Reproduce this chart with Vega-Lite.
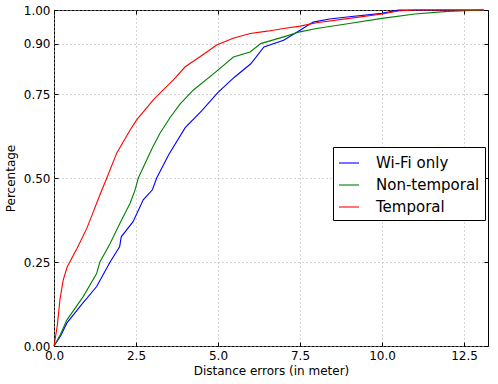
{
  "$schema": "https://vega.github.io/schema/vega-lite/v6.json",
  "width": 434,
  "height": 336,
  "autosize": {"type": "none"},
  "padding": {"left": 54, "top": 10, "right": 10, "bottom": 38},
  "background": "white",
  "config": {
    "view": {"stroke": "black", "strokeWidth": 1},
    "font": "DejaVu Sans",
    "axis": {"labelFont": "DejaVu Sans", "titleFont": "DejaVu Sans", "labelColor": "black", "titleColor": "black", "labelFontSize": 12, "titleFontSize": 12, "titleFontWeight": "normal", "domain": false, "tickColor": "black", "labelFlush": false, "labelOverlap": false}
  },
  "data": {"values": [
    {"s":"Wi-Fi only","x":0,"y":0},{"s":"Wi-Fi only","x":0.2,"y":0.03},{"s":"Wi-Fi only","x":0.39,"y":0.068},{"s":"Wi-Fi only","x":0.79,"y":0.117},{"s":"Wi-Fi only","x":1.3,"y":0.177},{"s":"Wi-Fi only","x":1.71,"y":0.25},{"s":"Wi-Fi only","x":2.0,"y":0.295},{"s":"Wi-Fi only","x":2.05,"y":0.325},{"s":"Wi-Fi only","x":2.41,"y":0.37},{"s":"Wi-Fi only","x":2.72,"y":0.435},{"s":"Wi-Fi only","x":3.0,"y":0.465},{"s":"Wi-Fi only","x":3.13,"y":0.5},{"s":"Wi-Fi only","x":3.5,"y":0.57},{"s":"Wi-Fi only","x":4.0,"y":0.65},{"s":"Wi-Fi only","x":4.5,"y":0.7},{"s":"Wi-Fi only","x":5.0,"y":0.755},{"s":"Wi-Fi only","x":5.5,"y":0.8},{"s":"Wi-Fi only","x":6.0,"y":0.84},{"s":"Wi-Fi only","x":6.4,"y":0.89},{"s":"Wi-Fi only","x":7.0,"y":0.91},{"s":"Wi-Fi only","x":7.5,"y":0.94},{"s":"Wi-Fi only","x":7.9,"y":0.964},{"s":"Wi-Fi only","x":8.4,"y":0.973},{"s":"Wi-Fi only","x":9.0,"y":0.98},{"s":"Wi-Fi only","x":10.0,"y":0.99},{"s":"Wi-Fi only","x":10.5,"y":1.0},{"s":"Wi-Fi only","x":13.1,"y":1.0},
    {"s":"Non-temporal","x":0,"y":0},{"s":"Non-temporal","x":0.2,"y":0.035},{"s":"Non-temporal","x":0.39,"y":0.077},{"s":"Non-temporal","x":0.89,"y":0.147},{"s":"Non-temporal","x":1.3,"y":0.216},{"s":"Non-temporal","x":1.4,"y":0.25},{"s":"Non-temporal","x":1.71,"y":0.305},{"s":"Non-temporal","x":2.01,"y":0.365},{"s":"Non-temporal","x":2.32,"y":0.425},{"s":"Non-temporal","x":2.47,"y":0.464},{"s":"Non-temporal","x":2.57,"y":0.5},{"s":"Non-temporal","x":3.0,"y":0.59},{"s":"Non-temporal","x":3.23,"y":0.633},{"s":"Non-temporal","x":3.54,"y":0.68},{"s":"Non-temporal","x":3.84,"y":0.72},{"s":"Non-temporal","x":4.25,"y":0.762},{"s":"Non-temporal","x":4.86,"y":0.81},{"s":"Non-temporal","x":5.47,"y":0.86},{"s":"Non-temporal","x":5.98,"y":0.875},{"s":"Non-temporal","x":6.3,"y":0.9},{"s":"Non-temporal","x":7.0,"y":0.92},{"s":"Non-temporal","x":7.5,"y":0.935},{"s":"Non-temporal","x":8.0,"y":0.945},{"s":"Non-temporal","x":9.0,"y":0.96},{"s":"Non-temporal","x":10.0,"y":0.975},{"s":"Non-temporal","x":11.0,"y":0.988},{"s":"Non-temporal","x":12.0,"y":0.996},{"s":"Non-temporal","x":13.1,"y":1.0},
    {"s":"Temporal","x":0,"y":0},{"s":"Temporal","x":0.1,"y":0.06},{"s":"Temporal","x":0.18,"y":0.137},{"s":"Temporal","x":0.28,"y":0.196},{"s":"Temporal","x":0.4,"y":0.235},{"s":"Temporal","x":0.7,"y":0.29},{"s":"Temporal","x":1.0,"y":0.35},{"s":"Temporal","x":1.2,"y":0.4},{"s":"Temporal","x":1.4,"y":0.45},{"s":"Temporal","x":1.61,"y":0.5},{"s":"Temporal","x":1.91,"y":0.574},{"s":"Temporal","x":2.32,"y":0.643},{"s":"Temporal","x":2.52,"y":0.673},{"s":"Temporal","x":3.02,"y":0.732},{"s":"Temporal","x":3.33,"y":0.762},{"s":"Temporal","x":3.64,"y":0.792},{"s":"Temporal","x":4.0,"y":0.831},{"s":"Temporal","x":4.45,"y":0.861},{"s":"Temporal","x":4.96,"y":0.896},{"s":"Temporal","x":5.46,"y":0.916},{"s":"Temporal","x":5.98,"y":0.93},{"s":"Temporal","x":6.5,"y":0.937},{"s":"Temporal","x":7.0,"y":0.945},{"s":"Temporal","x":7.5,"y":0.952},{"s":"Temporal","x":8.0,"y":0.962},{"s":"Temporal","x":9.0,"y":0.975},{"s":"Temporal","x":10.0,"y":0.988},{"s":"Temporal","x":10.5,"y":0.997},{"s":"Temporal","x":11.0,"y":1.0},{"s":"Temporal","x":13.1,"y":1.0}
  ]},
  "layer": [
    {
      "mark": {"type": "line", "strokeWidth": 1.1},
      "encoding": {
        "x": {"field": "x", "type": "quantitative", "scale": {"domain": [0, 13.23], "nice": false, "zero": false},
          "axis": {"title": "Distance errors (in meter)", "values": [0, 2.5, 5, 7.5, 10, 12.5], "format": ".1f", "grid": true, "gridDash": [1, 3], "gridColor": "#aaaaaa", "gridOpacity": 1, "tickSize": -4, "labelPadding": 8, "titlePadding": 4}},
        "y": {"field": "y", "type": "quantitative", "scale": {"domain": [0, 1], "nice": false},
          "axis": {"title": "Percentage", "values": [0, 0.25, 0.5, 0.75, 0.9, 1], "format": ".2f", "grid": true, "gridDash": [1, 3], "gridColor": "#aaaaaa", "gridOpacity": 1, "tickSize": -4, "labelPadding": 8, "titlePadding": 6}},
        "color": {"field": "s", "type": "nominal", "scale": {"domain": ["Wi-Fi only", "Non-temporal", "Temporal"], "range": ["#0000ff", "#008000", "#ff0000"]},
          "legend": {"title": null, "orient": "none", "legendX": 279, "legendY": 137, "symbolType": "stroke", "symbolSize": 400, "symbolStrokeWidth": 1.1, "labelFontSize": 15, "labelFont": "DejaVu Sans", "labelColor": "black", "labelOffset": 16, "rowPadding": 3, "padding": 5, "strokeColor": "black", "fillColor": "white", "cornerRadius": 0}}
      }
    },
    {
      "mark": {"type": "point", "opacity": 0},
      "encoding": {
        "x": {"field": "x", "type": "quantitative", "axis": {"orient": "top", "title": null, "values": [0, 2.5, 5, 7.5, 10, 12.5], "labels": false, "grid": false, "tickSize": -4}},
        "y": {"field": "y", "type": "quantitative", "axis": {"orient": "right", "title": null, "values": [0, 0.25, 0.5, 0.75, 0.9, 1], "labels": false, "grid": false, "tickSize": -4}}
      }
    }
  ],
  "resolve": {"axis": {"x": "independent", "y": "independent"}}
}
